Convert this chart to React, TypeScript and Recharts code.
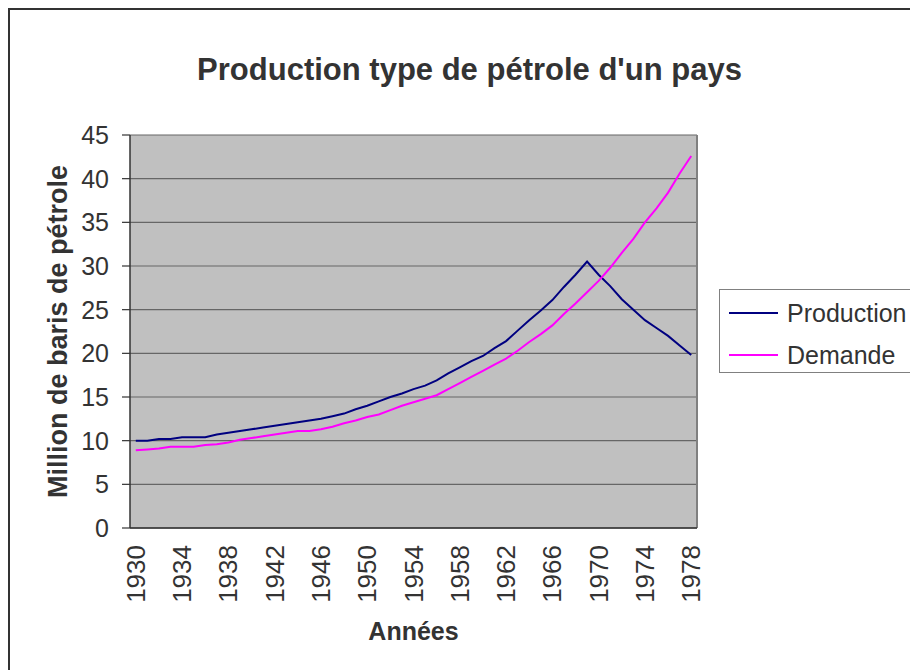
import React from "react";
import {
  CartesianGrid,
  Legend,
  Line,
  LineChart,
  ReferenceLine,
  XAxis,
  YAxis,
} from "recharts";

const years = [
  1930, 1931, 1932, 1933, 1934, 1935, 1936, 1937, 1938, 1939, 1940, 1941, 1942,
  1943, 1944, 1945, 1946, 1947, 1948, 1949, 1950, 1951, 1952, 1953, 1954, 1955,
  1956, 1957, 1958, 1959, 1960, 1961, 1962, 1963, 1964, 1965, 1966, 1967, 1968,
  1969, 1970, 1971, 1972, 1973, 1974, 1975, 1976, 1977, 1978,
];

const production = [
  10.0, 10.0, 10.2, 10.2, 10.4, 10.4, 10.4, 10.7, 10.9, 11.1, 11.3, 11.5, 11.7,
  11.9, 12.1, 12.3, 12.5, 12.8, 13.1, 13.6, 14.0, 14.5, 15.0, 15.4, 15.9, 16.3,
  16.9, 17.7, 18.4, 19.1, 19.7, 20.6, 21.4, 22.6, 23.8, 24.9, 26.1, 27.6, 29.0,
  30.5, 29.0, 27.7, 26.2, 25.0, 23.8, 22.9, 22.0, 20.9, 19.8,
];

const demande = [
  8.9, 9.0, 9.1, 9.3, 9.3, 9.3, 9.5, 9.6, 9.8, 10.1, 10.3, 10.5, 10.7, 10.9,
  11.1, 11.1, 11.3, 11.6, 12.0, 12.3, 12.7, 13.0, 13.5, 14.0, 14.4, 14.8, 15.2,
  15.9, 16.6, 17.3, 18.0, 18.7, 19.4, 20.3, 21.3, 22.2, 23.2, 24.5, 25.7, 27.0,
  28.3, 29.8, 31.5, 33.1, 35.0, 36.6, 38.4, 40.6, 42.6,
];

const seriesNames = ["Production", "Demande"];
const yearTicks = [1930, 1934, 1938, 1942, 1946, 1950, 1954, 1958, 1962, 1966, 1970, 1974, 1978];
const valueTicks = [0, 5, 10, 15, 20, 25, 30, 35, 40, 45];
// limites entre catégories (graduations Excel)
const boundaryTicks = [...years.map((y) => y - 0.5), 1978.5];

const data = years.map((year, i) => ({
  year,
  production: production[i],
  demande: demande[i],
}));

const FONT = "'Liberation Sans', Arial, sans-serif";
const TEXT = "#333";

const YearTick = (props: any) => {
  const { x, y, payload } = props;
  return (
    <text
      x={x}
      y={y}
      transform={`rotate(-90, ${x}, ${y})`}
      textAnchor="end"
      dominantBaseline="central"
      fontSize={26}
      fontFamily={FONT}
      fill={TEXT}
    >
      {payload.value}
    </text>
  );
};

const renderLegend = (props: any) => {
  const items = [...(props.payload || [])].sort(
    (a: any, b: any) => seriesNames.indexOf(a.value) - seriesNames.indexOf(b.value)
  );
  return (
    <div
      style={{
        position: "relative",
        width: 230,
        height: 84,
        border: "1.5px solid #808080",
        boxSizing: "border-box",
        background: "#fff",
        fontFamily: FONT,
        fontSize: 25,
        color: TEXT,
      }}
    >
      {items.map((entry: any, i: number) => (
        <div
          key={entry.value}
          style={{
            position: "absolute",
            left: 0,
            top: 2 + i * 42,
            height: 42,
            display: "flex",
            alignItems: "center",
          }}
        >
          <svg width={67} height={4} style={{ display: "block" }}>
            <line x1={9} y1={2} x2={58} y2={2} stroke={entry.color} strokeWidth={2} />
          </svg>
          <span style={{ lineHeight: "42px", whiteSpace: "nowrap" }}>{entry.value}</span>
        </div>
      ))}
    </div>
  );
};

export default function App() {
  return (
    <div
      style={{
        position: "relative",
        width: 910,
        height: 662,
        borderTop: "2px solid #333",
        borderLeft: "2px solid #333",
        boxSizing: "border-box",
        overflow: "hidden",
        background: "#fff",
      }}
    >
      <div
        style={{
          position: "absolute",
          left: 0,
          top: 44,
          width: 919,
          textAlign: "center",
          fontFamily: FONT,
          fontWeight: "bold",
          fontSize: 31,
          lineHeight: "31px",
          color: TEXT,
        }}
      >
        Production type de pétrole d'un pays
      </div>
      <LineChart
        width={908}
        height={660}
        data={data}
        margin={{ top: 125, right: 221, bottom: 62, left: 0 }}
      >
        <CartesianGrid
          vertical={false}
          fill="#C0C0C0"
          fillOpacity={1}
          stroke="#666"
          strokeWidth={1.2}
        />
        <XAxis
          xAxisId="marks"
          dataKey="year"
          type="number"
          domain={[1929.5, 1978.5]}
          ticks={boundaryTicks}
          interval={0}
          height={0}
          axisLine={false}
          tickSize={6}
          tickLine={{ stroke: "#333", strokeWidth: 1.2 }}
          tick={() => <g />}
        />
        <XAxis
          dataKey="year"
          type="number"
          domain={[1929.5, 1978.5]}
          ticks={yearTicks}
          interval={0}
          height={80}
          tickLine={false}
          tickSize={0}
          tickMargin={17}
          axisLine={{ stroke: "#333", strokeWidth: 1.5 }}
          tick={<YearTick />}
          label={(p: any) => (
            <text
              x={p.viewBox.x + p.viewBox.width / 2}
              y={p.viewBox.y + 112}
              textAnchor="middle"
              fontSize={25}
              fontWeight="bold"
              fontFamily={FONT}
              fill={TEXT}
            >
              Années
            </text>
          )}
        />
        <YAxis
          type="number"
          domain={[0, 45]}
          ticks={valueTicks}
          interval={0}
          width={120}
          tickSize={8}
          tickMargin={13}
          tickLine={{ stroke: "#333", strokeWidth: 1.2 }}
          axisLine={{ stroke: "#333", strokeWidth: 1.5 }}
          tick={{ fontSize: 25, fontFamily: FONT, fill: TEXT }}
          label={(p: any) => {
            const cx = p.viewBox.x + 48;
            const cy = p.viewBox.y + p.viewBox.height / 2;
            return (
              <text
                x={cx}
                y={cy}
                transform={`rotate(-90, ${cx}, ${cy})`}
                textAnchor="middle"
                dominantBaseline="central"
                fontSize={27}
                fontWeight="bold"
                fontFamily={FONT}
                fill={TEXT}
              >
                Million de baris de pétrole
              </text>
            );
          }}
        />
        <ReferenceLine x={1978.5} stroke="#808080" strokeWidth={2} />
        <Line
          dataKey="production"
          name="Production"
          stroke="#000080"
          strokeWidth={2}
          dot={false}
          type="linear"
          isAnimationActive={false}
        />
        <Line
          dataKey="demande"
          name="Demande"
          stroke="#FF00FF"
          strokeWidth={2}
          dot={false}
          type="linear"
          isAnimationActive={false}
        />
        <Legend
          layout="horizontal"
          verticalAlign="middle"
          align="center"
          content={renderLegend}
          wrapperStyle={{ left: 709, top: 279, width: 230, height: 84 }}
        />
      </LineChart>
    </div>
  );
}
